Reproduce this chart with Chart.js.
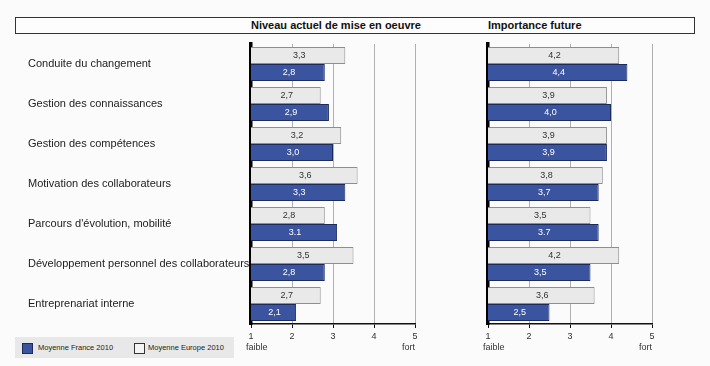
<!DOCTYPE html>
<html>
<head>
<meta charset="utf-8">
<script src="https://cdn.jsdelivr.net/npm/chart.js@4/dist/chart.umd.min.js"></script>
<style>
  html, body { margin: 0; padding: 0; background: #fbfbfb; }
  body { width: 710px; height: 366px; position: relative; overflow: hidden; font-family: "Liberation Sans", Arial, sans-serif; }
  #header { position: absolute; left: 15px; top: 17px; width: 678px; height: 15px; border: 1px solid #333; background: #fdfdfd; }
  .ttl { position: absolute; top: 18px; font-size: 11px; font-weight: bold; color: #111; line-height: 15px; }
  #legend { position: absolute; left: 15px; top: 337px; width: 219px; height: 21px; background: #e8e8e8; }
  .sw { position: absolute; top: 6px; width: 9px; height: 9px; border: 1px solid #222; }
  .lt { position: absolute; top: 5px; font-size: 7.5px; color: #222; line-height: 11px; }
  canvas { position: absolute; top: 0; }
</style>
</head>
<body>
<div id="header"></div>
<div class="ttl" style="left:251px">Niveau actuel de mise en oeuvre</div>
<div class="ttl" style="left:488px">Importance future</div>
<div id="legend">
  <div class="sw" style="left:7px;background:#3b54a0;border-color:#1d2b5c"></div>
  <div class="lt" style="left:23px">Moyenne France 2010</div>
  <div class="sw" style="left:119px;background:#f4f4f4;border-color:#333"></div>
  <div class="lt" style="left:133px">Moyenne Europe 2010</div>
</div>
<canvas id="left" width="430" height="366" style="left:0"></canvas>
<canvas id="right" width="270" height="366" style="left:440px"></canvas>
<script>
const categories = [
  "Conduite du changement",
  "Gestion des connaissances",
  "Gestion des compétences",
  "Motivation des collaborateurs",
  "Parcours d'évolution, mobilité",
  "Développement personnel des collaborateurs",
  "Entreprenariat interne"
];
const seriesNames = ["Moyenne Europe 2010", "Moyenne France 2010"];

const leftEurope  = [3.3, 2.7, 3.2, 3.6, 2.8, 3.5, 2.7];
const leftFrance  = [2.8, 2.9, 3.0, 3.3, 3.1, 2.8, 2.1];
const rightEurope = [4.2, 3.9, 3.9, 3.8, 3.5, 4.2, 3.6];
const rightFrance = [4.4, 4.0, 3.9, 3.7, 3.7, 3.5, 2.5];

const leftEuropeLabels  = ["3,3", "2,7", "3,2", "3,6", "2,8", "3,5", "2,7"];
const leftFranceLabels  = ["2,8", "2,9", "3,0", "3,3", "3.1", "2,8", "2,1"];
const rightEuropeLabels = ["4,2", "3,9", "3,9", "3,8", "3,5", "4,2", "3,6"];
const rightFranceLabels = ["4,4", "4,0", "3,9", "3,7", "3.7", "3,5", "2,5"];

const xTickValues = [1, 2, 3, 4, 5];
const scaleWords = ["faible", "fort"];
const panelTitles = ["Niveau actuel de mise en oeuvre", "Importance future"];

const FONT = "'Liberation Sans', Arial, sans-serif";

const valueLabelPlugin = {
  id: 'valueLabels',
  afterDatasetsDraw(chart) {
    const ctx = chart.ctx;
    const xs = chart.scales.x;
    const start = xs.getPixelForValue(xs.min);
    ctx.save();
    ctx.font = "9px " + FONT;
    ctx.textAlign = 'center';
    ctx.textBaseline = 'middle';
    chart.data.datasets.forEach((ds, i) => {
      const meta = chart.getDatasetMeta(i);
      meta.data.forEach((bar, j) => {
        ctx.fillStyle = ds.labelColor;
        ctx.fillText(ds.valueLabels[j], (bar.x + start) / 2 + 1, bar.y + 0.5);
      });
    });
    ctx.restore();
  }
};

const scaleWordPlugin = {
  id: 'scaleWords',
  afterDraw(chart) {
    const ctx = chart.ctx;
    const x = chart.scales.x;
    ctx.save();
    ctx.font = "9px " + FONT;
    ctx.fillStyle = '#333';
    ctx.textBaseline = 'middle';
    ctx.textAlign = 'left';
    ctx.fillText(scaleWords[0], x.getPixelForValue(xTickValues[0]) - 5, 348);
    ctx.textAlign = 'right';
    ctx.fillText(scaleWords[1], x.getPixelForValue(xTickValues[xTickValues.length - 1]), 348);
    ctx.restore();
  }
};

function makeChart(id, europe, france, euroLabels, frLabels, showCats, padLeft, padRight) {
  return new Chart(document.getElementById(id), {
    type: 'bar',
    data: {
      labels: categories,
      datasets: [
        {
          label: seriesNames[0],
          data: europe,
          valueLabels: euroLabels,
          labelColor: '#333',
          backgroundColor: '#e9e9e9',
          borderColor: '#8e8e8e',
          borderWidth: 1,
          borderSkipped: 'start',
          categoryPercentage: 0.85,
          barPercentage: 1.0
        },
        {
          label: seriesNames[1],
          data: france,
          valueLabels: frLabels,
          labelColor: '#ffffff',
          backgroundColor: '#3b54a0',
          borderColor: '#1d2b5c',
          borderWidth: 1,
          borderSkipped: 'start',
          categoryPercentage: 0.85,
          barPercentage: 1.0
        }
      ]
    },
    options: {
      indexAxis: 'y',
      responsive: false,
      animation: false,
      devicePixelRatio: 1,
      layout: { padding: { left: padLeft, right: padRight, top: 44, bottom: 0 } },
      plugins: { legend: { display: false }, tooltip: { enabled: false }, title: { display: false } },
      scales: {
        x: {
          type: 'linear',
          min: 1, max: 5,
          afterBuildTicks(scale) { scale.ticks = xTickValues.map(v => ({ value: v })); },
          afterFit(scale) { scale.height = 42; scale.paddingLeft = 0; scale.paddingRight = 0; },
          grid: {
            color: ctx => (ctx.tick && ctx.tick.value === 1) ? 'rgba(0,0,0,0)' : '#b0b0b0',
            lineWidth: 1,
            drawTicks: true,
            tickLength: 4,
            tickColor: '#111'
          },
          border: { display: true, color: '#111', width: 1.5 },
          ticks: {
            color: '#333',
            font: { size: 9, family: FONT },
            padding: 3,
            maxRotation: 0,
            callback: v => String(v)
          }
        },
        y: {
          z: 1,
          afterFit(scale) { scale.width = showCats ? 223 : 0; },
          grid: { display: false, drawTicks: false },
          border: { display: true, color: '#000', width: 3.5 },
          ticks: {
            display: showCats,
            crossAlign: 'far',
            padding: 0,
            color: '#222',
            font: { size: 11, family: FONT }
          }
        }
      }
    },
    plugins: [valueLabelPlugin, scaleWordPlugin]
  });
}

makeChart('left', leftEurope, leftFrance, leftEuropeLabels, leftFranceLabels, true, 28, 15);
makeChart('right', rightEurope, rightFrance, rightEuropeLabels, rightFranceLabels, false, 48, 58);
</script>
</body>
</html>
